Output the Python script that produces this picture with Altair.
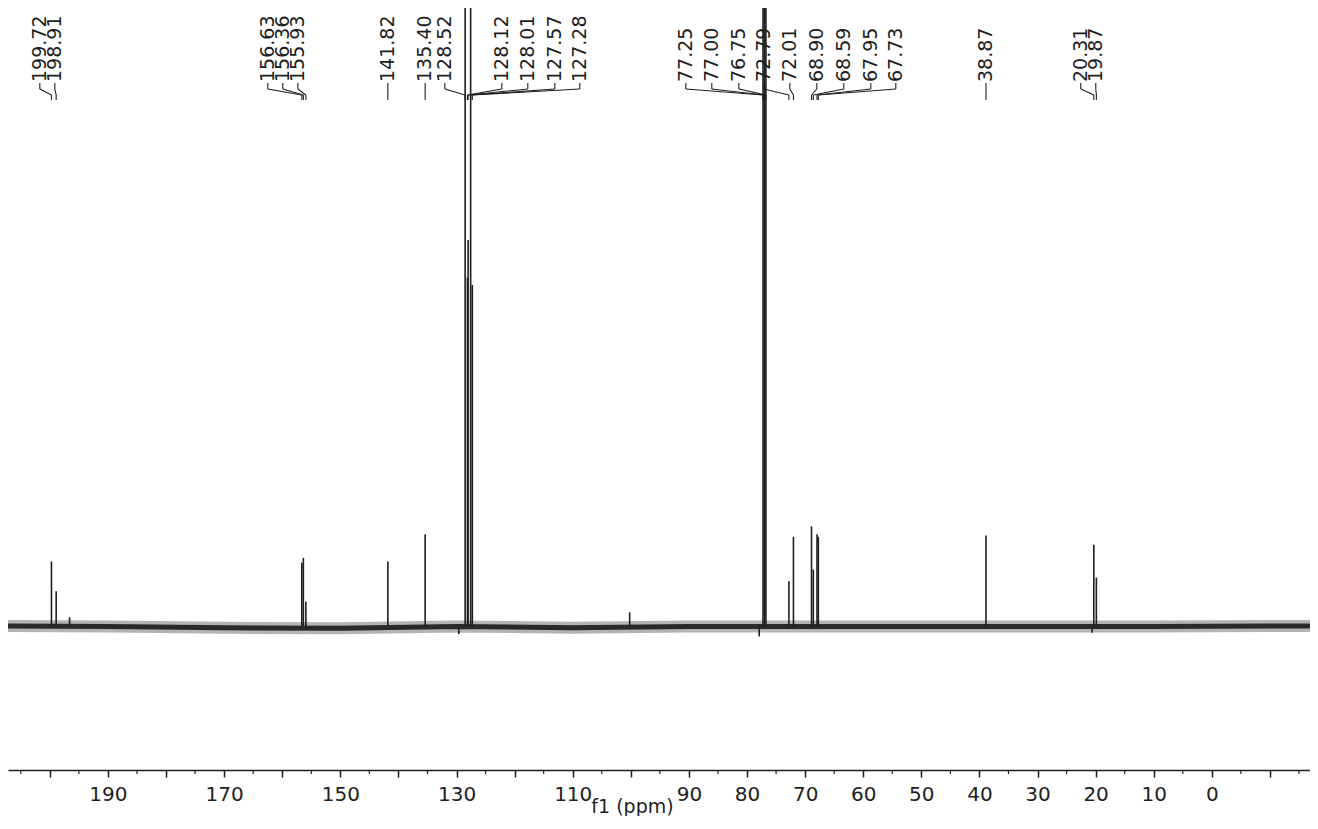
import altair as alt
import pandas as pd

# ---- data ----
peak_ppm = [199.72, 198.91, 156.63, 156.36, 155.93, 141.82, 135.40, 128.52, 128.12, 128.01,
            127.57, 127.28, 77.25, 77.00, 76.75, 72.79, 72.01, 68.90, 68.59, 67.95, 67.73,
            38.87, 20.31, 19.87]
peak_height = [10.5, 5.7, 10.3, 11.1, 4.0, 10.5, 14.9, 115.0, 56.4, 62.5,
               115.0, 55.2, 115.0, 115.0, 115.0, 7.3, 14.5, 16.2, 9.2, 14.9, 14.5,
               14.7, 13.2, 7.9]
label_ppm = [201.72, 199.14, 162.48, 159.90, 157.31, 141.82, 135.40, 132.01, 122.20, 117.73,
             113.08, 108.78, 90.53, 86.06, 81.41, 77.11, 72.63, 67.99, 63.34, 58.69, 54.39,
             38.87, 22.55, 19.97]

small_ppm = [196.6, 100.2]
small_height = [1.5, 2.3]

dip_ppm = [129.6, 77.9, 20.6]
dip_depth = [-1.2, -1.6, -1.0]

baseline_ppm = [207.2, 190, 170, 150, 130, 110, 90, 70, 50, 30, 10, -16.9]
baseline_level = [0.1, 0.0, -0.2, -0.3, 0.0, -0.2, 0.0, 0.0, 0.0, 0.0, 0.0, 0.1]

tick_values = list(range(200, -20, -10))
tick_labels = [190, 170, 150, 130, 110, 90, 80, 70, 60, 50, 40, 30, 20, 10, 0]
minor_tick_values = list(range(205, -20, -10))

X_DOMAIN = [-16.9, 207.2]
Y_DOMAIN = [-23.2, 100]
INK = "#1e1e1e"
PLOT_H = 762

peaks = pd.DataFrame({"ppm": peak_ppm, "height": peak_height, "label": label_ppm})
spikes = pd.DataFrame({"ppm": small_ppm + dip_ppm, "height": small_height + dip_depth})
base = pd.DataFrame({"ppm": baseline_ppm, "level": baseline_level})
minor = pd.DataFrame({"ppm": minor_tick_values})

label_list = ",".join(str(v) for v in tick_labels)
x_axis = alt.Axis(
    values=tick_values,
    labelExpr=f"indexof([{label_list}], datum.value) >= 0 ? datum.label : ''",
    tickSize=7, tickWidth=1.5, tickColor=INK,
    domainColor=INK, domainWidth=1.5,
    labelFont="DejaVu Sans", labelFontSize=20, labelColor=INK, labelPadding=7,
    labelFlush=False, labelOverlap=False, grid=False,
    title="f1 (ppm)", titleFont="DejaVu Sans", titleFontSize=19, titleFontWeight="normal",
    titleColor=INK, titleX=624, titleY=42, titleAlign="center", titleBaseline="alphabetic",
)
xscale = alt.Scale(domain=X_DOMAIN, reverse=True, nice=False, zero=False)


def xs(field="ppm"):
    return alt.X(f"{field}:Q", scale=xscale, axis=x_axis, title="f1 (ppm)")


yscale = alt.Scale(domain=Y_DOMAIN, nice=False, zero=False)

halo = alt.Chart(base).mark_line(strokeWidth=12, color="#444444", opacity=0.4).encode(
    x=xs(), y=alt.Y("level:Q", scale=yscale, axis=None))
core = alt.Chart(base).mark_line(strokeWidth=5, color="#2a2a2a").encode(
    x=xs(), y=alt.Y("level:Q", scale=yscale, axis=None))

peak_rules = alt.Chart(peaks).mark_rule(strokeWidth=1.6, color=INK, clip=True).encode(
    x=xs(), y=alt.Y("height:Q", scale=yscale, axis=None), y2=alt.datum(0))
spike_rules = alt.Chart(spikes).mark_rule(strokeWidth=1.6, color=INK, clip=True).encode(
    x=xs(), y=alt.Y("height:Q", scale=yscale, axis=None), y2=alt.datum(0))

labels = alt.Chart(peaks).mark_text(angle=270, align="left", baseline="middle",
                                    font="DejaVu Sans", fontSize=19, color=INK).encode(
    x=xs("label"), y=alt.value(74), text=alt.Text("ppm:Q", format=".2f"))

c1 = alt.Chart(peaks).mark_rule(strokeWidth=1.1, color=INK).encode(
    x=xs("label"), y=alt.value(75), y2=alt.value(81))
c2 = alt.Chart(peaks).mark_rule(strokeWidth=1.1, color=INK).encode(
    x=xs("label"), x2="ppm:Q", y=alt.value(81), y2=alt.value(87))
c3 = alt.Chart(peaks).mark_rule(strokeWidth=1.1, color=INK).encode(
    x=xs(), y=alt.value(87), y2=alt.value(92))

minor_ticks = alt.Chart(minor).mark_rule(strokeWidth=1.2, color=INK).encode(
    x=xs(), y=alt.value(PLOT_H), y2=alt.value(PLOT_H + 4))

chart = alt.layer(halo, core, spike_rules, peak_rules, c1, c2, c3, labels, minor_ticks).properties(
    width=1302, height=PLOT_H, padding={"left": 0, "right": 0, "top": 0, "bottom": 46},
    autosize=alt.AutoSizeParams(type="none"),
).configure(background="white").configure_view(strokeWidth=0)

chart.save("out.html", embed_options={"renderer": "svg", "actions": False})
